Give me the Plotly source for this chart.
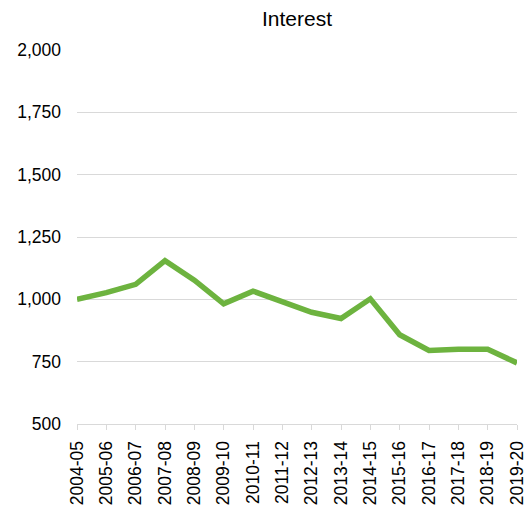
import plotly.graph_objects as go

years = ["2004-05", "2005-06", "2006-07", "2007-08", "2008-09", "2009-10", "2010-11",
         "2011-12", "2012-13", "2013-14", "2014-15", "2015-16", "2016-17", "2017-18",
         "2018-19", "2019-20"]
interest = [1000, 1027, 1060, 1155, 1077, 982, 1033, 988, 948, 923, 1002, 858, 795, 800,
            800, 745]
y_ticks = [500, 750, 1000, 1250, 1500, 1750, 2000]

fig = go.Figure()
fig.add_trace(go.Scatter(x=years, y=interest, mode="lines",
                         line=dict(color="#6db33f", width=5.5), showlegend=False))

fig.update_layout(
    width=526, height=508,
    margin=dict(l=77, r=9, t=50, b=84),
    paper_bgcolor="white", plot_bgcolor="white",
    font=dict(family="Liberation Sans, Arial, sans-serif", size=17.5, color="#000000"),
    title=dict(text="Interest", x=0.5, xref="paper", xanchor="center",
               y=1 - 19 / 508, yref="container", yanchor="middle",
               font=dict(size=21, color="#000000")),
)
fig.update_xaxes(type="category", range=[0, len(years) - 1], tickangle=-90,
                 showgrid=False, showline=True, linecolor="#d9d9d9", linewidth=1,
                 ticks="outside", ticklen=5, tickcolor="#d9d9d9", automargin=False,
                 ticklabelstandoff=4, tickfont=dict(size=17.5))
fig.update_yaxes(range=[500, 2000], tickvals=y_ticks, tickformat=",", showgrid=True,
                 gridcolor="#d9d9d9", gridwidth=1, zeroline=False, showline=False,
                 ticks="", ticklabelstandoff=15, automargin=False,
                 tickfont=dict(size=17.5))

fig.write_html("out.html", config={"displayModeBar": False})

with open("out.html", "r", encoding="utf-8") as f:
    html = f.read()
html = html.replace("<body>", '<body style="margin:0;padding:0;">', 1)
with open("out.html", "w", encoding="utf-8") as f:
    f.write(html)
